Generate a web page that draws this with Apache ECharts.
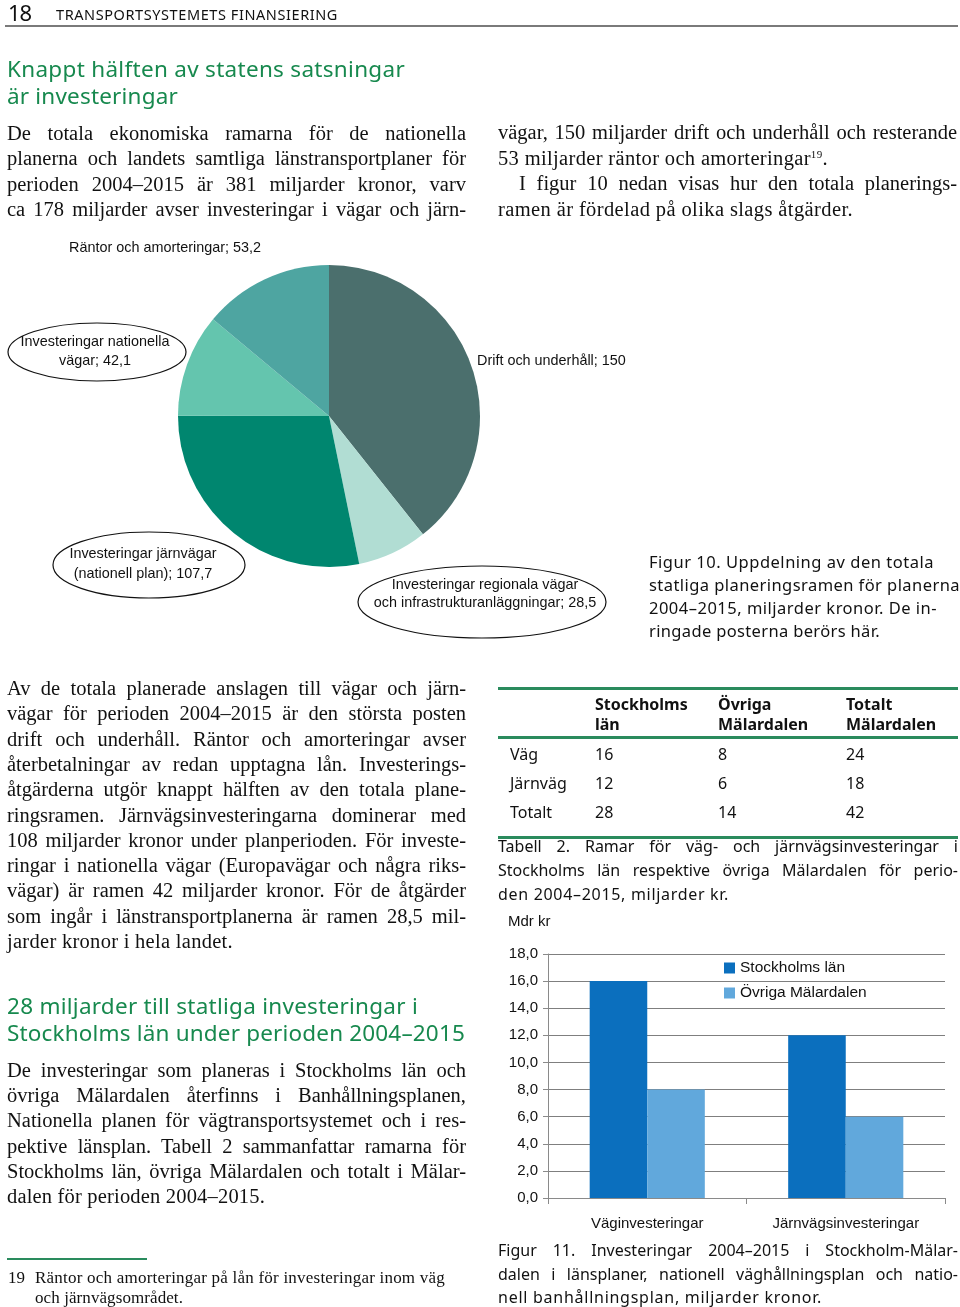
<!DOCTYPE html>
<html lang="sv">
<head>
<meta charset="utf-8">
<script src="https://cdn.jsdelivr.net/npm/echarts@6/dist/echarts.min.js"></script>
<style>
  html, body { margin:0; padding:0; background:#ffffff; }
  body { width:960px; height:1307px; position:relative; overflow:hidden; }
  #page { position:absolute; left:0; top:0; width:960px; height:1307px; z-index:0; }
  .ln { position:absolute; white-space:nowrap; z-index:2; }
  .rule { position:absolute; z-index:2; }
  sup { font-size:11px; line-height:0; vertical-align:7px; }
</style>
</head>
<body>
<div id="page"></div>
<script>
// ---------------- DATA ----------------
const pieCategories = ['Drift och underhåll', 'Investeringar regionala vägar och infrastrukturanläggningar', 'Investeringar järnvägar (nationell plan)', 'Investeringar nationella vägar', 'Räntor och amorteringar'];
const pieValues = [150, 28.5, 107.7, 42.1, 53.2];

const barCategories = ['Väginvesteringar', 'Järnvägsinvesteringar'];
const barSeriesNames = ['Stockholms län', 'Övriga Mälardalen'];
const stockholmValues = [16, 12];
const ovrigaValues = [8, 6];
const yMin = 0, yMax = 18, yInterval = 2;

const tableHeader = [['', ''], ['Stockholms', 'län'], ['Övriga', 'Mälardalen'], ['Totalt', 'Mälardalen']];
const tableRows = ['Väg', 'Järnväg', 'Totalt'];
const tableStockholm = [16, 12, 28];
const tableOvriga = [8, 6, 14];
const tableTotal = [24, 18, 42];

// ---------------- STYLE ----------------
const GREEN = '#17894e';
const LINEGREEN = '#2a8b5d';
const TXT = '#111111';
const SERIF = '"Liberation Serif", "Times New Roman", serif';
const SANS = '"Noto Sans", "Open Sans", sans-serif';
const ARIAL = '"Liberation Sans", Arial, sans-serif';
const pieColors = ['#4b6f6d', '#b1ddd3', '#00866f', '#64c5ae', '#4ea5a1'];
const BODY = 20.5;

function fmt(v) { return String(v).replace('.', ','); }

// ---------------- TEXT LINES ----------------
function addLine(t, x, cy, font, size, color, opts) {
  opts = opts || {};
  const d = document.createElement('div');
  d.className = 'ln';
  const lh = Math.round(size * 1.35);
  d.style.left = x + 'px';
  d.style.top = (cy - lh / 2) + 'px';
  d.style.fontFamily = font;
  d.style.fontSize = size + 'px';
  d.style.lineHeight = lh + 'px';
  d.style.color = color;
  if (opts.bold) d.style.fontWeight = 'bold';
  d.innerHTML = t;
  document.body.appendChild(d);
  if (opts.w) {
    const nat = d.getBoundingClientRect().width;
    const txt = d.textContent;
    const spaces = (txt.match(/ /g) || []).length;
    if (opts.j && spaces && nat <= opts.w) {
      d.style.wordSpacing = ((opts.w - nat) / spaces) + 'px';
    } else {
      d.style.letterSpacing = ((opts.w - nat) / txt.length) + 'px';
    }
  }
  return d;
}

function addBlock(b) {
  b.lines.forEach((ln, i) => {
    const o = typeof ln === 'string' ? { t: ln } : ln;
    const x = o.x !== undefined ? o.x : b.x;
    const w = o.w !== undefined ? o.w : (o.r ? null : b.w - (x - b.x));
    addLine(o.t, x, b.y + i * b.lh, b.font, b.size, b.color || TXT, { w: w, j: !o.r, bold: b.bold });
  });
}

function addRule(x, y, w, h, color) {
  const d = document.createElement('div');
  d.className = 'rule';
  d.style.left = x + 'px'; d.style.top = y + 'px';
  d.style.width = w + 'px'; d.style.height = h + 'px';
  d.style.background = color;
  document.body.appendChild(d);
}

// header
addLine('18', 8, 12, SANS, 22, '#111', { w: 23 });
addLine('TRANSPORTSYSTEMETS FINANSIERING', 56, 14, SANS, 14.5, '#111', { w: 282 });
addRule(5, 25, 953, 2, '#7a7a7a');

// heading 1
addLine('Knappt hälften av statens satsningar', 7, 69, SANS, 22.5, GREEN, { w: 398 });
addLine('är investeringar', 7, 96, SANS, 22.5, GREEN, { w: 171 });

addBlock({ x: 7, w: 459, y: 133, lh: 25.3, font: SERIF, size: BODY, lines: [
  'De totala ekonomiska ramarna för de nationella',
  'planerna och landets samtliga länstransportplaner för',
  'perioden 2004–2015 är 381 miljarder kronor, varv',
  'ca 178 miljarder avser investeringar i vägar och järn-'
]});
addBlock({ x: 498, w: 459, y: 132, lh: 25.6, font: SERIF, size: BODY, lines: [
  'vägar, 150 miljarder drift och underhåll och resterande',
  { t: '53 miljarder räntor och amorteringar<sup>19</sup>.', r: true, w: 330 },
  { t: 'I figur 10 nedan visas hur den totala planerings-', x: 519 },
  { t: 'ramen är fördelad på olika slags åtgärder.', r: true, w: 355 }
]});

// figure 10 caption
addBlock({ x: 649, w: 311, y: 562, lh: 23, font: SANS, size: 16.5, lines: [
  { t: 'Figur 10. Uppdelning av den totala', r: true, w: 285 },
  { t: 'statliga planeringsramen för planerna', r: true, w: 311 },
  { t: '2004–2015, miljarder kronor. De in-', r: true, w: 288 },
  { t: 'ringade posterna berörs här.', r: true, w: 231 }
]});

addBlock({ x: 7, w: 459, y: 688, lh: 25.3, font: SERIF, size: BODY, lines: [
  'Av de totala planerade anslagen till vägar och järn-',
  'vägar för perioden 2004–2015 är den största posten',
  'drift och underhåll. Räntor och amorteringar avser',
  'återbetalningar av redan upptagna lån. Investerings-',
  'åtgärderna utgör knappt hälften av den totala plane-',
  'ringsramen. Järnvägsinvesteringarna dominerar med',
  '108 miljarder kronor under planperioden. För investe-',
  'ringar i nationella vägar (Europavägar och några riks-',
  'vägar) är ramen 42 miljarder kronor. För de åtgärder',
  'som ingår i länstransportplanerna är ramen 28,5 mil-',
  { t: 'jarder kronor i hela landet.', r: true, w: 226 }
]});

// heading 2
addLine('28 miljarder till statliga investeringar i', 7, 1006, SANS, 22.5, GREEN, { w: 411 });
addLine('Stockholms län under perioden 2004–2015', 7, 1033, SANS, 22.5, GREEN, { w: 458 });

addBlock({ x: 7, w: 459, y: 1070, lh: 25.2, font: SERIF, size: BODY, lines: [
  'De investeringar som planeras i Stockholms län och',
  'övriga Mälardalen återfinns i Banhållningsplanen,',
  'Nationella planen för vägtransportsystemet och i res-',
  'pektive länsplan. Tabell 2 sammanfattar ramarna för',
  'Stockholms län, övriga Mälardalen och totalt i Mälar-',
  { t: 'dalen för perioden 2004–2015.', r: true, w: 258 }
]});

// footnote
addRule(7, 1258, 140, 2, LINEGREEN);
addLine('19', 8, 1277, SERIF, 17, TXT, {});
addLine('Räntor och amorteringar på lån för investeringar inom väg', 35, 1277, SERIF, 17, TXT, { w: 410 });
addLine('och järnvägsområdet.', 35, 1297, SERIF, 17, TXT, { w: 148 });

// table
addRule(498, 687, 460, 3, LINEGREEN);
addRule(498, 736, 460, 3, LINEGREEN);
addRule(498, 836, 460, 3, LINEGREEN);
const colX = [510, 595, 718, 846];
tableHeader.forEach((h, c) => {
  if (h[0]) addLine(h[0], colX[c], 704, SANS, 16, '#111', { bold: true });
  if (h[1]) addLine(h[1], colX[c], 724, SANS, 16, '#111', { bold: true });
});
const rowY = [754, 783, 812];
tableRows.forEach((r, i) => {
  addLine(r, colX[0], rowY[i], SANS, 16, '#111', {});
  addLine(fmt(tableStockholm[i]), colX[1], rowY[i], SANS, 16, '#111', {});
  addLine(fmt(tableOvriga[i]), colX[2], rowY[i], SANS, 16, '#111', {});
  addLine(fmt(tableTotal[i]), colX[3], rowY[i], SANS, 16, '#111', {});
});

addBlock({ x: 498, w: 460, y: 846, lh: 24, font: SANS, size: 16, lines: [
  'Tabell 2. Ramar för väg- och järnvägsinvesteringar i',
  'Stockholms län respektive övriga Mälardalen för perio-',
  { t: 'den 2004–2015, miljarder kr.', r: true, w: 231 }
]});

addBlock({ x: 498, w: 460, y: 1250, lh: 23.5, font: SANS, size: 16, lines: [
  'Figur 11. Investeringar 2004–2015 i Stockholm-Mälar-',
  'dalen i länsplaner, nationell väghållningsplan och natio-',
  { t: 'nell banhållningsplan, miljarder kronor.', r: true, w: 324 }
]});

// ---------------- CHART ----------------
const chart = echarts.init(document.getElementById('page'), null, { renderer: 'canvas', width: 960, height: 1307 });

const pieData = pieCategories.map((n, i) => ({ name: n, value: pieValues[i], itemStyle: { color: pieColors[i] } }));

const axisGray = '#8a8a8a';
const PIEFONT = '14.4px ' + ARIAL;
const option = {
  animation: false,
  backgroundColor: 'transparent',
  textStyle: { fontFamily: ARIAL },
  grid: { left: 548, top: 954, width: 397, height: 244, containLabel: false },
  legend: {
    orient: 'vertical', left: 724, top: 960, padding: 0, itemWidth: 11, itemHeight: 11, itemGap: 9,
    icon: 'rect', data: barSeriesNames,
    textStyle: { fontFamily: ARIAL, fontSize: 15.5, color: '#111' }
  },
  xAxis: {
    type: 'category', data: barCategories,
    axisLine: { show: true, lineStyle: { color: axisGray, width: 1 } },
    axisTick: { show: true, length: 6, lineStyle: { color: axisGray } },
    axisLabel: { color: '#111', fontSize: 15, margin: 18, fontFamily: ARIAL },
    splitLine: { show: false }
  },
  yAxis: {
    type: 'value', min: yMin, max: yMax, interval: yInterval,
    axisLine: { show: true, lineStyle: { color: axisGray, width: 1 } },
    axisTick: { show: true, length: 5, lineStyle: { color: axisGray } },
    axisLabel: { color: '#111', fontSize: 15, margin: 10, fontFamily: ARIAL, formatter: v => v.toFixed(1).replace('.', ',') },
    splitLine: { show: true, lineStyle: { color: '#7f7f7f', width: 1 } }
  },
  series: [
    { type: 'bar', name: barSeriesNames[0], data: stockholmValues, barGap: '0%', barCategoryGap: '42%', itemStyle: { color: '#0b6fbe' }, silent: true },
    { type: 'bar', name: barSeriesNames[1], data: ovrigaValues, barGap: '0%', barCategoryGap: '42%', itemStyle: { color: '#61a8dc' }, silent: true },
    {
      type: 'pie', center: [329, 416], radius: 151, startAngle: 90, clockwise: true,
      label: { show: false }, labelLine: { show: false }, silent: true,
      itemStyle: { borderWidth: 0 }, data: pieData
    }
  ],
  graphic: [
    { type: 'ellipse', shape: { cx: 97, cy: 352, rx: 89, ry: 29 }, style: { fill: 'transparent', stroke: '#111', lineWidth: 1.2 } },
    { type: 'ellipse', shape: { cx: 149, cy: 565, rx: 96, ry: 33 }, style: { fill: 'transparent', stroke: '#111', lineWidth: 1.2 } },
    { type: 'ellipse', shape: { cx: 482, cy: 602, rx: 124, ry: 36 }, style: { fill: 'transparent', stroke: '#111', lineWidth: 1.2 } },
    { type: 'text', x: 69, y: 248, style: { text: pieCategories[4] + '; ' + fmt(pieValues[4]), font: PIEFONT, fill: '#111', align: 'left', verticalAlign: 'middle' } },
    { type: 'text', x: 477, y: 361, style: { text: pieCategories[0] + '; ' + fmt(pieValues[0]), font: PIEFONT, fill: '#111', align: 'left', verticalAlign: 'middle' } },
    { type: 'text', x: 95, y: 352, style: { text: 'Investeringar nationella\nvägar; ' + fmt(pieValues[3]), font: PIEFONT, lineHeight: 19, fill: '#111', align: 'center', verticalAlign: 'middle' } },
    { type: 'text', x: 143, y: 564, style: { text: 'Investeringar järnvägar\n(nationell plan); ' + fmt(pieValues[2]), font: PIEFONT, lineHeight: 20, fill: '#111', align: 'center', verticalAlign: 'middle' } },
    { type: 'text', x: 485, y: 594, style: { text: 'Investeringar regionala vägar\noch infrastrukturanläggningar; ' + fmt(pieValues[1]), font: PIEFONT, lineHeight: 18, fill: '#111', align: 'center', verticalAlign: 'middle' } },
    { type: 'text', x: 508, y: 922, style: { text: 'Mdr kr', font: '15px ' + ARIAL, fill: '#111', align: 'left', verticalAlign: 'middle' } }
  ]
};
chart.setOption(option);
</script>
</body>
</html>
